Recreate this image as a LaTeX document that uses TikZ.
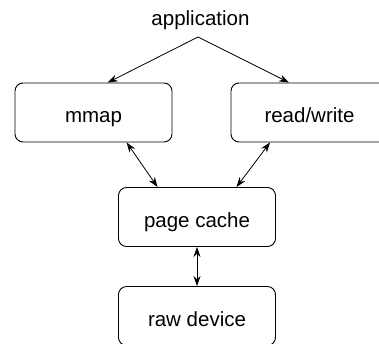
\documentclass[tikz,border=0pt]{standalone}
\usepackage{fontspec}
\setmainfont{Liberation Sans}
\usetikzlibrary{arrows.meta,calc}
\begin{document}
\begin{tikzpicture}[x=1pt,y=-1pt,
  lbl/.style={font=\fontsize{20.5}{24}\selectfont},
  box/.style={lbl,draw,rounded corners=8pt,minimum width=157pt,minimum height=59pt,inner sep=0pt,line width=0.9pt,text height=20pt,text depth=0pt},
  conn/.style={line width=0.8pt,-{Stealth[length=10pt,width=7pt]}},
  dconn/.style={line width=0.8pt,{Stealth[length=10pt,width=7pt]}-{Stealth[length=10pt,width=7pt]}}]
\useasboundingbox (0,0) rectangle (379,343);
\clip (0,0) rectangle (379,343);
\node[lbl,inner sep=0pt,anchor=base] (app) at (200.5,25) {application};
\coordinate (apex) at (198,37);
\node[box] (mm) at (93.5,112.5) {mmap};
\node[box] (rw) at (309.5,112.5) {read/write};
\node[box] (pc) at (197,217) {page cache};
\node[box] (rd) at (197,316) {raw device};
\draw[conn] (apex) -- ($(mm.north west)!0.59!(mm.north east)$);
\draw[conn] (apex) -- ($(rw.north west)!0.37!(rw.north east)$);
\draw[dconn] ($(mm.south west)!0.71!(mm.south east)$) -- ($(pc.north west)!0.25!(pc.north east)$);
\draw[dconn] ($(rw.south west)!0.25!(rw.south east)$) -- ($(pc.north west)!0.75!(pc.north east)$);
\draw[dconn] (pc) -- (rd);
\end{tikzpicture}
\end{document}
